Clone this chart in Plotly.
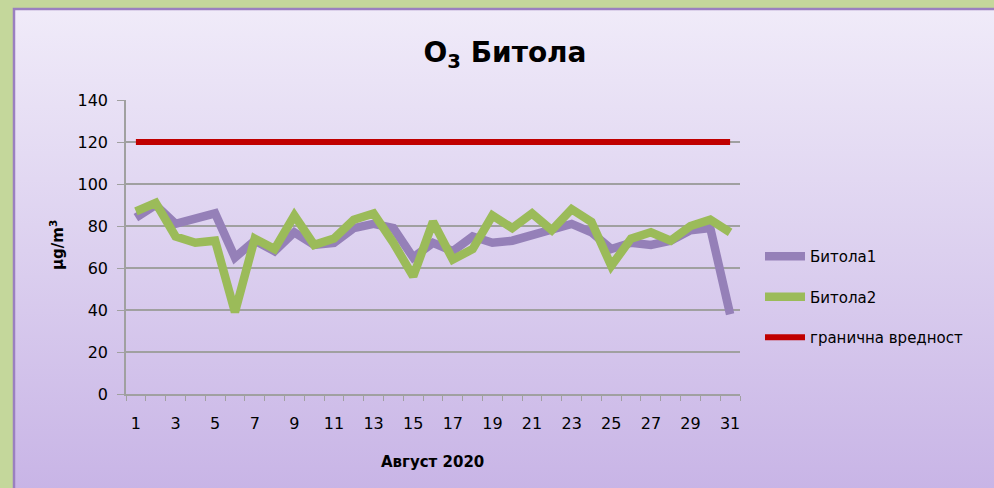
import base64
import plotly.graph_objects as go

days = list(range(1, 32))
bitola1 = [84, 90, 81, 83, 86, 65, 73, 68, 77, 71, 72, 79, 81, 79, 65, 72,
           68, 75, 72, 73, 76, 78, 81, 77, 69, 72, 71, 73, 78, 79, 38]
bitola2 = [87, 91, 75, 72, 73, 39, 74, 69, 85, 71, 74, 83, 86, 72, 56, 82,
           64, 69, 85, 79, 86, 78, 88, 82, 61, 74, 77, 73, 80, 83, 77]
limit = [120] * 31
x_ticks = list(range(1, 32, 2))
y_ticks = list(range(0, 141, 20))

FONT = "DejaVu Sans, sans-serif"

svg = ('<svg xmlns="http://www.w3.org/2000/svg" width="100" height="100" preserveAspectRatio="none">'
       '<defs><linearGradient id="g" x1="0" y1="0" x2="0" y2="1">'
       '<stop offset="0" stop-color="#f0ebf9"/><stop offset="0.5" stop-color="#dcd0ef"/>'
       '<stop offset="1" stop-color="#c8b4e6"/></linearGradient></defs>'
       '<rect width="100" height="100" fill="url(#g)"/></svg>')
svg_uri = "data:image/svg+xml;base64," + base64.b64encode(svg.encode()).decode()

L, R, T, B = 126, 254, 100, 94
W, H = 994, 488
pw, ph = W - L - R, H - T - B

def px(xp):
    return (xp - L) / pw

def py(yp):
    return (H - B - yp) / ph

fig = go.Figure()
fig.add_trace(go.Scatter(x=days, y=bitola1, mode="lines", name="Битола1",
                         line=dict(color="#9580b8", width=8.5), legendgroup="a"))
fig.add_trace(go.Scatter(x=days, y=bitola2, mode="lines", name="Битола2",
                         line=dict(color="#9bbb59", width=8.5), legendgroup="b"))
fig.add_trace(go.Scatter(x=days, y=limit, mode="lines", name="гранична вредност",
                         line=dict(color="#c00000", width=6), legendgroup="c"))

fig.update_layout(
    width=W, height=H,
    margin=dict(l=L, r=R, t=T, b=B),
    paper_bgcolor="#c4d79b",
    plot_bgcolor="rgba(0,0,0,0)",
    font=dict(family=FONT, size=16, color="#000000"),
    title=dict(text="<b>O<sub>3</sub> Битола</b>", font=dict(size=28, family=FONT),
               x=505 / W, xref="container", xanchor="center",
               y=1 - 52 / H, yref="container", yanchor="middle"),
    showlegend=True,
    legend=dict(x=px(760), y=py(240), xanchor="left", yanchor="top",
                bgcolor="rgba(0,0,0,0)", font=dict(size=15, family=FONT),
                traceorder="grouped", tracegroupgap=18, itemwidth=40),
    images=[dict(source=svg_uri, xref="paper", yref="paper",
                 x=px(14), y=py(9), sizex=px(W + 5) - px(14), sizey=py(9) - py(H + 5),
                 xanchor="left", yanchor="top", sizing="stretch", layer="below")],
    shapes=[dict(type="rect", xref="paper", yref="paper",
                 x0=px(14), x1=px(W + 10), y0=py(H + 10), y1=py(9),
                 line=dict(color="#9a80c0", width=2.5), fillcolor="rgba(0,0,0,0)",
                 layer="below")],
    annotations=[
        dict(text="<b>μg/m<sup>3</sup></b>", xref="paper", yref="paper",
             x=px(57), y=py(245), textangle=-90, showarrow=False,
             font=dict(size=15, family=FONT), xanchor="center", yanchor="middle"),
        dict(text="<b>Август 2020</b>", xref="paper", yref="paper",
             x=px(432), y=py(462), showarrow=False,
             font=dict(size=15, family=FONT), xanchor="center", yanchor="middle"),
    ],
)

fig.update_xaxes(range=[0.5, 31.5], tickvals=x_ticks, ticktext=[str(v) for v in x_ticks],
                 showgrid=False, zeroline=False, showline=True, linecolor="#a0a0a0",
                 linewidth=1.5, ticks="", tickfont=dict(size=16), ticklabelstandoff=14,
                 minor=dict(tick0=0.5, dtick=1, ticks="outside", ticklen=5,
                            tickcolor="#a0a0a0", showgrid=False))
fig.update_yaxes(range=[0, 140], tickvals=y_ticks, showgrid=True, gridcolor="#a0a0a0",
                 gridwidth=1.5, zeroline=False, showline=True, linecolor="#a0a0a0",
                 linewidth=1.5, ticks="outside", ticklen=7, tickcolor="#a0a0a0",
                 tickfont=dict(size=16), ticklabelstandoff=6)

fig.write_html("out.html", config={"displayModeBar": False},
               post_script="document.body.style.margin='0';document.body.style.overflow='hidden';")
